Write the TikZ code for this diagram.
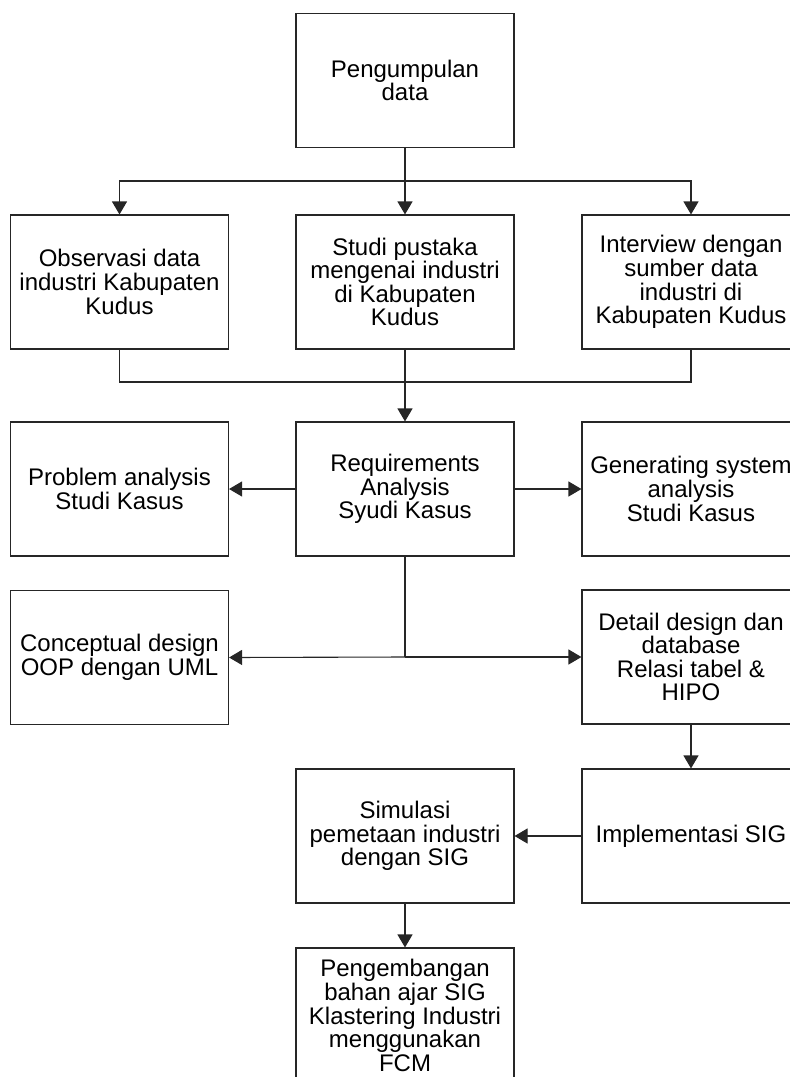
\documentclass[tikz,border=0pt]{standalone}
\usepackage{fontspec}
\setmainfont{Liberation Sans}
\usetikzlibrary{arrows.meta}

\tikzset{
  stepbox/.style={draw=black!85, line width=0.55pt, minimum width=109pt,
    minimum height=67pt, inner sep=0pt, align=center,
    font=\fontsize{12}{11.8}\selectfont},
  flow/.style={draw=black!85, line width=0.55pt},
  arr/.style={flow, -{Triangle[width=7.5pt,length=6.5pt]}}
}

\begin{document}
\begin{tikzpicture}[x=0.5pt, y=-0.5pt]
  \useasboundingbox (0,0) rectangle (790,1077);
  \clip (0,0) rectangle (790,1077);

  % stage 1: collecting data
  \node[stepbox] (kumpul) at (405,80.5) {Pengumpulan\\data};

  % stage 2: data sources
  \node[stepbox] (obs) at (119.5,282) {Observasi data\\industri Kabupaten\\Kudus};
  \node[stepbox] (pustaka) at (405,282) {Studi pustaka\\mengenai industri\\di Kabupaten\\Kudus};
  \node[stepbox] (wawancara) at (691,282) {Interview dengan\\sumber data\\industri di\\Kabupaten Kudus};

  % stage 3: analysis
  \node[stepbox] (problem) at (119.5,489) {Problem analysis\\Studi Kasus};
  \node[stepbox] (req) at (405,489) {Requirements\\Analysis\\Syudi Kasus};
  \node[stepbox] (gen) at (691,489) {Generating system\\analysis\\Studi Kasus};

  % stage 4: design
  \node[stepbox] (konsep) at (119.5,657.5) {Conceptual design\\OOP dengan UML};
  \node[stepbox] (detail) at (691,657) {Detail design dan\\database\\Relasi tabel \&\\HIPO};

  % stage 5: implementation
  \node[stepbox] (simulasi) at (405,836) {Simulasi\\pemetaan industri\\dengan SIG};
  \node[stepbox] (impl) at (691,836) {Implementasi SIG};

  % stage 6: teaching material (runs past the lower edge)
  \node[stepbox, minimum height=67.5pt] (ajar) at (405,1015.5) {Pengembangan\\bahan ajar SIG\\Klastering Industri\\menggunakan\\FCM};

  % junction points
  \coordinate (split) at (405,181);
  \coordinate (merge) at (405,382);
  \coordinate (fork) at (405,657);

  % connectors
  \draw[flow] (kumpul.south) -- (split);
  \draw[arr] (split) -| (obs.north);
  \draw[arr] (split) -- (pustaka.north);
  \draw[arr] (split) -| (wawancara.north);

  \draw[flow] (obs.south) |- (merge) -| (wawancara.south);
  \draw[arr] (pustaka.south) -- (req.north);

  \draw[arr] (req.west) -- (problem.east);
  \draw[arr] (req.east) -- (gen.west);

  \draw[flow] (req.south) -- (fork);
  \draw[arr] (fork) -- (konsep.east);
  \draw[arr] (fork) -- (detail.west);

  \draw[arr] (detail.south) -- (impl.north);
  \draw[arr] (impl.west) -- (simulasi.east);
  \draw[arr] (simulasi.south) -- (ajar.north);
\end{tikzpicture}
\end{document}
